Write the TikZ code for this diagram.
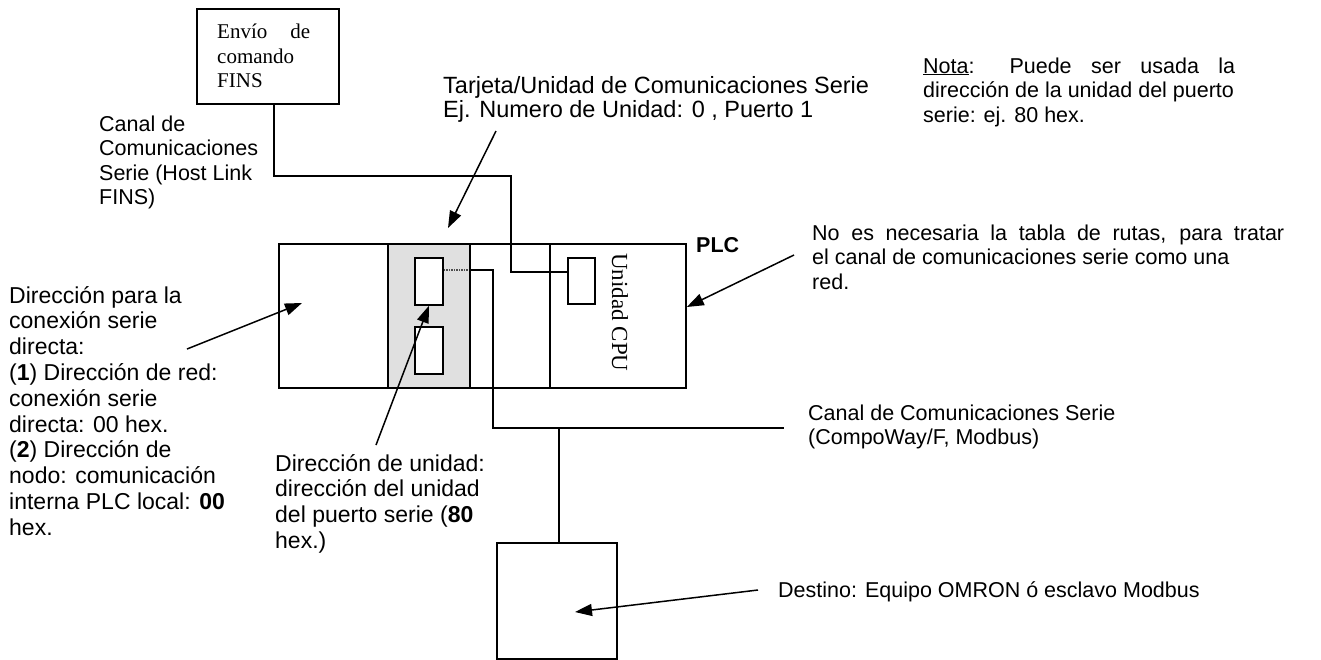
\documentclass[tikz,border=0pt]{standalone}
\usepackage{fontspec}
\setmainfont{Liberation Sans}
\newfontfamily\timesf{Liberation Serif}
\usetikzlibrary{arrows.meta}
\newcommand\tl[1]{\begin{tabular}[t]{@{}l@{}}#1\end{tabular}}
\begin{document}
\begin{tikzpicture}[x=1pt,y=-1pt,
  lbl/.style={anchor=base west,inner sep=0pt,font=\fontsize{21.5}{24.5}\selectfont},
  lblbig/.style={anchor=base west,inner sep=0pt,font=\fontsize{23}{25.8}\selectfont},
  box/.style={draw,line width=1.8pt},
  port/.style={draw,line width=1.8pt,fill=white,anchor=north west,inner sep=0pt},
  wire/.style={line width=1.5pt},
  arr/.style={line width=1.5pt,-{Triangle[length=17pt,width=12pt]}}]
\useasboundingbox (0,0) rectangle (1321,659);
% FINS box
\node[box,minimum width=142pt,minimum height=95pt,anchor=north west,inner sep=0pt] (fins) at (196,8) {};
\node[anchor=north west,inner sep=0pt,text width=93pt,align=justify,font=\timesf\fontsize{21}{24.5}\selectfont] (finst) at (217,24) {Envío de comando FINS};
% PLC
\node[box,minimum width=407pt,minimum height=144pt,anchor=north west,inner sep=0pt] (plc) at (278,243) {};
\node[draw,line width=1.8pt,fill=black!12,minimum width=82pt,minimum height=144pt,anchor=north west,inner sep=0pt] (mod) at (387,243) {};
\coordinate (cputop) at (550,243);
\coordinate (cpubot) at (550,387);
\draw[box] (cputop) -- (cpubot);
\node[port,minimum width=28pt,minimum height=47pt] (p1) at (414,257) {};
\node[port,minimum width=28pt,minimum height=47pt] (p2) at (414,326) {};
\node[port,minimum width=27pt,minimum height=46pt] (cp) at (567,257) {};
\node[rotate=-90,anchor=base west,inner sep=0pt,font=\timesf\fontsize{23}{24}\selectfont] (cpu) at (612,253) {Unidad CPU};
\node[anchor=base west,inner sep=0pt,font=\bfseries\fontsize{21.5}{24}\selectfont] (plcl) at (696,252) {PLC};
% destination
\node[box,minimum width=120pt,minimum height=116pt,anchor=north west,inner sep=0pt] (dest) at (496,542) {};
% wires
\coordinate (w1) at (274,176);
\coordinate (w2) at (511,176);
\coordinate (w3) at (511,272);
\draw[wire] (fins.south -| w1) -- (w1) -- (w2) -- (w3) -- (cp.west |- w3);
\coordinate (s1) at (469,270);
\coordinate (s2) at (493,270);
\coordinate (s3) at (493,428);
\coordinate (s4) at (784,428);
\coordinate (s5) at (559,428);
\draw[line width=1.5pt,black!70,densely dotted] (p1.east |- s1) -- (s1);
\draw[wire] (s1) -- (s2) -- (s3) -- (s4);
\draw[wire] (s5) -- (s5 |- dest.north);
% labels
\node[lbl] (canal) at (99,131) {\tl{Canal de\\Comunicaciones\\Serie (Host Link\\FINS)}};
\node[anchor=base west,inner sep=0pt,font=\fontsize{23.5}{23.5}\selectfont] (tarj) at (443,93) {\tl{Tarjeta/Unidad de Comunicaciones Serie\\Ej. Numero de Unidad: 0 , Puerto 1}};
\node[lbl] (nota) at (923,73) {\tl{\makebox[312pt][s]{\underline{Nota}: Puede ser usada la}\\dirección de la unidad del puerto\\serie: ej. 80 hex.}};
\node[lbl] (noes) at (812,240) {\tl{\makebox[472pt][s]{No es necesaria la tabla de rutas, para tratar}\\el canal de comunicaciones serie como una\\red.}};
\node[lblbig] (dirl) at (9,303) {\tl{Dirección para la\\conexión serie\\directa:\\(\textbf{1}) Dirección de red:\\conexión serie\\directa: 00 hex.\\(\textbf{2}) Dirección de\\nodo: comunicación\\interna PLC local: \textbf{00}\\hex.}};
\node[lblbig] (diru) at (275,471) {\tl{Dirección de unidad:\\dirección del unidad\\del puerto serie (\textbf{80}\\hex.)}};
\node[lbl] (canal2) at (808,420) {\tl{Canal de Comunicaciones Serie\\(CompoWay/F, Modbus)}};
\node[lbl] (destl) at (778,597) {Destino: Equipo OMRON ó esclavo Modbus};
% arrows
\coordinate (a1s) at (496,131);
\coordinate (a1e) at (448,228);
\draw[arr] (a1s) -- (a1e);
\coordinate (a2s) at (794,255);
\draw[arr] (a2s) -- (plc.east |- 0,307);
\coordinate (a3s) at (187,349);
\coordinate (a3e) at (302,303);
\draw[arr] (a3s) -- (a3e);
\coordinate (a4s) at (376,445);
\draw[arr] (a4s) -- (p1.south);
\coordinate (a5s) at (758,590);
\coordinate (a5e) at (575,612);
\draw[arr] (a5s) -- (a5e);
\end{tikzpicture}
\end{document}
